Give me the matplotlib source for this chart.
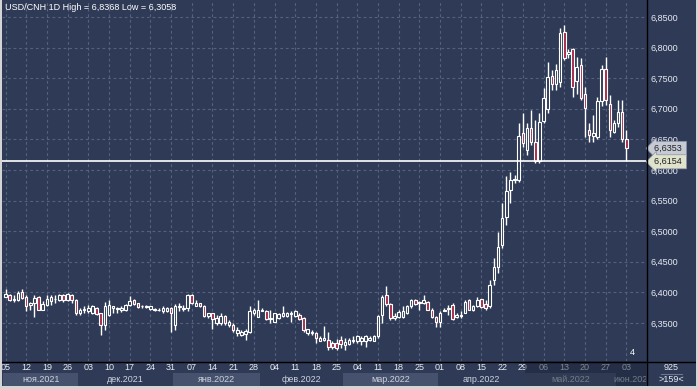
import numpy as np
import pandas as pd
import matplotlib
matplotlib.use('Agg')
import matplotlib.pyplot as plt
import matplotlib.transforms as mtransforms
from matplotlib.lines import Line2D
from matplotlib.patches import Rectangle
from matplotlib.ticker import FuncFormatter

plt.rcParams['font.family'] = ['Liberation Sans', 'DejaVu Sans']

# daily candles USD/CNH, 05.11.2021 .. 03.06.2022 (business days)
dates = pd.bdate_range('2021-11-05', periods=151)

opens = [6.393, 6.396, 6.387, 6.388, 6.400, 6.393, 6.380, 6.382, 6.393, 6.372,
         6.379, 6.386, 6.389, 6.388, 6.396, 6.388, 6.396, 6.388, 6.366, 6.371,
         6.369, 6.366, 6.374, 6.366, 6.347, 6.363, 6.375, 6.373, 6.371, 6.372,
         6.379, 6.387, 6.382, 6.377, 6.376, 6.373, 6.371, 6.372, 6.369, 6.370,
         6.374, 6.347, 6.376, 6.373, 6.374, 6.396, 6.378, 6.382, 6.378, 6.361,
         6.366, 6.350, 6.350, 6.361, 6.347, 6.347, 6.333, 6.331, 6.332, 6.336,
         6.366, 6.360, 6.370, 6.370, 6.356, 6.352, 6.358, 6.361, 6.362, 6.364,
         6.362, 6.363, 6.358, 6.333, 6.333, 6.334, 6.321, 6.322, 6.323, 6.318,
         6.318, 6.323, 6.314, 6.316, 6.320, 6.320, 6.320, 6.320, 6.323, 6.321,
         6.328, 6.363, 6.396, 6.381, 6.358, 6.360, 6.360, 6.367, 6.377, 6.388,
         6.382, 6.382, 6.385, 6.372, 6.360, 6.352, 6.370, 6.373, 6.379, 6.360,
         6.361, 6.367, 6.388, 6.372, 6.377, 6.389, 6.381, 6.377, 6.420, 6.442,
         6.477, 6.524, 6.567, 6.586, 6.584, 6.660, 6.633, 6.668, 6.646, 6.614,
         6.680, 6.700, 6.753, 6.741, 6.743, 6.825, 6.789, 6.797, 6.745, 6.772,
         6.725, 6.665, 6.656, 6.654, 6.712, 6.765, 6.708, 6.662, 6.676, 6.694,
         6.650]
highs = [6.405, 6.398, 6.396, 6.403, 6.406, 6.396, 6.384, 6.396, 6.394, 6.386,
         6.396, 6.396, 6.396, 6.398, 6.397, 6.399, 6.397, 6.389, 6.374, 6.377,
         6.379, 6.379, 6.376, 6.367, 6.385, 6.388, 6.378, 6.376, 6.377, 6.381,
         6.394, 6.390, 6.383, 6.380, 6.379, 6.378, 6.375, 6.375, 6.377, 6.376,
         6.376, 6.381, 6.382, 6.379, 6.398, 6.397, 6.388, 6.383, 6.379, 6.367,
         6.367, 6.363, 6.366, 6.363, 6.355, 6.350, 6.344, 6.339, 6.340, 6.377,
         6.374, 6.387, 6.374, 6.371, 6.371, 6.367, 6.366, 6.377, 6.368, 6.369,
         6.371, 6.366, 6.359, 6.341, 6.339, 6.336, 6.328, 6.345, 6.336, 6.320,
         6.324, 6.328, 6.325, 6.325, 6.328, 6.330, 6.328, 6.330, 6.328, 6.330,
         6.363, 6.396, 6.411, 6.382, 6.366, 6.371, 6.377, 6.379, 6.390, 6.390,
         6.386, 6.396, 6.386, 6.374, 6.361, 6.369, 6.374, 6.379, 6.382, 6.366,
         6.369, 6.388, 6.390, 6.379, 6.393, 6.390, 6.388, 6.420, 6.456, 6.499,
         6.5455, 6.590, 6.597, 6.592, 6.676, 6.693, 6.676, 6.698, 6.682, 6.693,
         6.734, 6.777, 6.763, 6.774, 6.832, 6.8368, 6.797, 6.800, 6.785, 6.783,
         6.736, 6.676, 6.690, 6.720, 6.771, 6.785, 6.722, 6.682, 6.714, 6.714,
         6.665]
lows = [6.392, 6.386, 6.384, 6.386, 6.389, 6.369, 6.372, 6.360, 6.371, 6.371,
        6.377, 6.380, 6.382, 6.386, 6.385, 6.386, 6.383, 6.363, 6.363, 6.366,
        6.366, 6.365, 6.363, 6.330, 6.339, 6.361, 6.366, 6.366, 6.368, 6.370,
        6.378, 6.379, 6.374, 6.375, 6.374, 6.372, 6.369, 6.369, 6.367, 6.368,
        6.336, 6.339, 6.369, 6.369, 6.369, 6.381, 6.377, 6.376, 6.360, 6.358,
        6.341, 6.347, 6.347, 6.347, 6.344, 6.336, 6.328, 6.329, 6.323, 6.333,
        6.363, 6.359, 6.369, 6.355, 6.350, 6.351, 6.356, 6.360, 6.360, 6.352,
        6.360, 6.355, 6.336, 6.330, 6.330, 6.317, 6.320, 6.320, 6.3058, 6.307,
        6.306, 6.309, 6.306, 6.314, 6.318, 6.318, 6.314, 6.311, 6.320, 6.320,
        6.325, 6.350, 6.377, 6.355, 6.355, 6.358, 6.358, 6.365, 6.374, 6.380,
        6.371, 6.381, 6.371, 6.358, 6.344, 6.344, 6.369, 6.363, 6.355, 6.358,
        6.358, 6.366, 6.371, 6.370, 6.376, 6.374, 6.371, 6.374, 6.412, 6.431,
        6.472, 6.510, 6.546, 6.578, 6.581, 6.638, 6.625, 6.641, 6.611, 6.611,
        6.676, 6.693, 6.731, 6.731, 6.736, 6.780, 6.783, 6.720, 6.725, 6.714,
        6.654, 6.646, 6.646, 6.650, 6.705, 6.706, 6.654, 6.660, 6.670, 6.646,
        6.6154]
closes = [6.397, 6.388, 6.390, 6.399, 6.391, 6.378, 6.383, 6.391, 6.372, 6.381,
          6.389, 6.392, 6.390, 6.396, 6.387, 6.397, 6.387, 6.366, 6.372, 6.373,
          6.374, 6.377, 6.364, 6.347, 6.377, 6.379, 6.377, 6.374, 6.375, 6.379,
          6.386, 6.381, 6.376, 6.378, 6.377, 6.377, 6.373, 6.372, 6.374, 6.374,
          6.366, 6.377, 6.378, 6.375, 6.396, 6.382, 6.382, 6.378, 6.361, 6.366,
          6.356, 6.358, 6.361, 6.350, 6.352, 6.339, 6.339, 6.336, 6.337, 6.369,
          6.372, 6.371, 6.372, 6.356, 6.358, 6.366, 6.364, 6.367, 6.366, 6.367,
          6.369, 6.356, 6.339, 6.340, 6.336, 6.325, 6.326, 6.325, 6.311, 6.310,
          6.309, 6.316, 6.319, 6.322, 6.322, 6.328, 6.325, 6.328, 6.325, 6.329,
          6.361, 6.393, 6.381, 6.358, 6.361, 6.368, 6.370, 6.377, 6.388, 6.381,
          6.385, 6.388, 6.372, 6.359, 6.352, 6.366, 6.372, 6.375, 6.356, 6.363,
          6.363, 6.385, 6.372, 6.377, 6.388, 6.376, 6.374, 6.412, 6.442, 6.475,
          6.521, 6.565, 6.584, 6.583, 6.656, 6.644, 6.668, 6.646, 6.614, 6.679,
          6.717, 6.752, 6.741, 6.763, 6.824, 6.783, 6.793, 6.736, 6.769, 6.718,
          6.702, 6.657, 6.660, 6.712, 6.765, 6.714, 6.665, 6.676, 6.695, 6.650,
          6.6353]
level = 6.6154
y_ticks = [6.35, 6.40, 6.45, 6.50, 6.55, 6.60, 6.65, 6.70, 6.75, 6.80, 6.85]
months_ru = ['янв', 'фев', 'мар', 'апр', 'май', 'июн',
             'июл', 'авг', 'сен', 'окт', 'ноя', 'дек']

BG = '#2e3a56'
BAND = '#46526d'
DOWN = '#a52a4a'
GRID = '#55617d'
TXT = '#e8ebf2'
BORDER = '#d4d4d4'
W, H = 698, 389


def fx(px):
    return px / W


def fy(py):
    return 1 - py / H


def comma(v, n=4):
    return f'{v:.{n}f}'.replace('.', ',')


o = np.array(opens)
h = np.array(highs)
l = np.array(lows)
c = np.array(closes)
idx = np.arange(len(dates))

fig = plt.figure(figsize=(6.98, 3.89), dpi=100, facecolor=BG)

# light window border (left, right, bottom)
for rect in [(0, 0, fx(2), 1), (fx(696), 0, fx(2), 1), (0, 0, 1, 3 / H)]:
    fig.patches.append(Rectangle(rect[:2], rect[2], rect[3], transform=fig.transFigure,
                                 fc=BORDER, ec='none', zorder=10))

ax = fig.add_axes([fx(2), fy(361), fx(644), 361 / H], facecolor=BG)
ax.set_xlim(-0.85, 154.75)
ax.set_ylim(6.2879, 6.8778)

# grid
fridays = idx[dates.dayofweek == 4]
ax.set_xticks(fridays)
ax.set_yticks(y_ticks)
ax.grid(True, color=GRID, ls=(0, (2.5, 2.5)), lw=0.8, zorder=0)
ax.set_axisbelow(True)
ax.tick_params(axis='x', length=0, labelbottom=False)
ax.yaxis.tick_right()
ax.yaxis.set_major_formatter(FuncFormatter(lambda v, p: comma(v)))
ax.tick_params(axis='y', length=0, pad=3, labelsize=6.5, labelcolor=TXT)
for s in ax.spines.values():
    s.set_visible(False)

# candles
up = c >= o
ax.vlines(idx, l, h, color='white', lw=1, zorder=2)
ax.bar(idx, np.abs(c - o), bottom=np.minimum(o, c), width=0.62,
       color=np.where(up, BG, DOWN), edgecolor='white', linewidth=0.8, zorder=3)

ax.axhline(level, color='white', lw=1.2, zorder=4)

ax.text(0.004, 0.992, f'USD/CNH 1D High = {comma(h.max())} Low = {comma(l.min())}',
        transform=ax.transAxes, ha='left', va='top', color='white', fontsize=6.5)
ax.text(0.978, 0.012, '4', transform=ax.transAxes, ha='center', va='bottom',
        color='white', fontsize=6.5)

# price markers on the right
trans = mtransforms.blended_transform_factory(ax.transAxes, ax.transData)
ax.text(1.012, c[-1], comma(c[-1]) + ' ', transform=trans, ha='left', va='center',
        fontsize=6.5, color='#202020', clip_on=False, zorder=6,
        bbox=dict(boxstyle='larrow,pad=0.28', fc='#c6cad4', ec='#8c93a4', lw=0.5))
ax.text(1.012, level - 0.002, comma(level) + ' ', transform=trans, ha='left', va='center',
        fontsize=6.5, color='#202020', clip_on=False, zorder=6,
        bbox=dict(boxstyle='larrow,pad=0.28', fc='#dfe3cc', ec='#8c93a4', lw=0.5))

# date axis
ax_b = fig.add_axes([fx(2), fy(386), fx(644), 25 / H])
ax_b.set_xlim(ax.get_xlim())
ax_b.set_ylim(25, 0)
ax_b.set_axis_off()

periods = dates.to_period('M')
month_list = periods.unique()
for k, m in enumerate(month_list):
    pos = idx[periods == m]
    start, end = pos[0] - 0.5, pos[-1] + 0.5
    if k % 2 == 0:
        ax_b.add_patch(Rectangle((start, 12), end - start, 12.5, fc=BAND, ec='none', zorder=1))
    label = f'{months_ru[m.month - 1]}.{m.year}'
    if k == len(month_list) - 1:
        # last month is cut at the right edge
        t = ax_b.text(start - 0.6, 18.5, label, ha='left', va='center', fontsize=6.5,
                      color='#cdd3de', zorder=2)
    else:
        t = ax_b.text((start + end) / 2, 18.5, label, ha='center', va='center',
                      fontsize=6.5, color='#cdd3de', zorder=2)
    t.set_clip_on(True)

for i in fridays:
    ax_b.text(i, 6, f'{dates[i].day:02d}', ha='center', va='center',
              fontsize=6.5, color=TXT, zorder=2, clip_on=True)

may_start = idx[periods == month_list[-2]][0] - 0.5
ax_b.add_patch(Rectangle((may_start, 0), 160 - may_start, 25, fc='#1c2438',
                         ec='none', alpha=0.5, zorder=5))

# corner box
ax_c = fig.add_axes([fx(646), fy(386), fx(50), 25 / H])
ax_c.set_axis_off()
ax_c.set_xlim(0, 1)
ax_c.set_ylim(0, 1)
ax_c.text(0.5, 0.76, '925', ha='center', va='center', fontsize=6.5, color=TXT)
ax_c.text(0.5, 0.24, '>159<', ha='center', va='center', fontsize=6.5, color=TXT)
ax_c.plot([0.3, 0.72], [0.5, 0.5], color='#6d768b', lw=0.8)

# separators
fig.add_artist(Line2D([0, 1], [fy(361.5)] * 2, transform=fig.transFigure,
                      color='black', lw=1))
fig.add_artist(Line2D([fx(646.5)] * 2, [fy(386), 1], transform=fig.transFigure,
                      color='black', lw=1))

fig.savefig('out.png', dpi=100, facecolor=fig.get_facecolor())
